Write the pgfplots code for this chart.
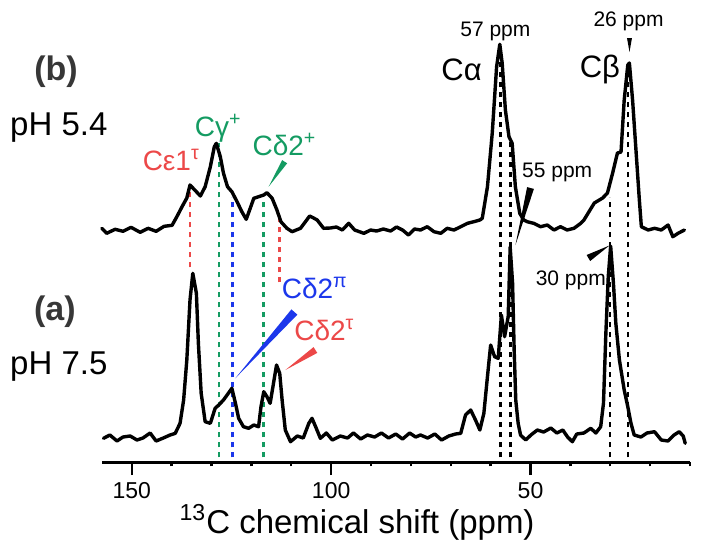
\documentclass[border=0pt]{standalone}
\usepackage{fontspec}
\setmainfont{Liberation Sans}
\usepackage{pgfplots}
\pgfplotsset{compat=1.18}
\definecolor{cred}{RGB}{236,72,72}
\definecolor{cgreen}{RGB}{20,155,98}
\definecolor{cblue}{RGB}{28,55,235}
\definecolor{cgray}{RGB}{55,55,55}
\begin{document}
\begin{tikzpicture}
\useasboundingbox (-51.15pt,-45.85pt) rectangle (299.35pt,231.15pt);
\begin{axis}[
  at={(0,0)}, anchor=south west,
  scale only axis, width=293.85pt, height=231.15pt,
  xmin=10, xmax=157.4, ymin=0, ymax=462.3,
  x dir=reverse,
  axis x line*=bottom, axis y line=none,
  xtick={50,100,150}, minor xtick={10,20,...,140},
  xtick align=outside,
  major tick length=6.35pt, minor tick length=2pt,
  tick style={black, line width=1.2pt},
  x axis line style={line width=1.3pt},
  xticklabel style={font=\fontsize{11.5}{13}\selectfont},
  /pgf/number format/assume math mode=true,
  clip=false,
]
% dashed guide lines
\begin{scope}[line width=1.2pt, dash pattern=on 2.8pt off 2.2pt]
\draw[cred] (axis cs:135.4,195) -- (axis cs:135.4,277);
\draw[cgreen] (axis cs:128.1,5) -- (axis cs:128.1,319);
\draw[cblue] (axis cs:124.7,5) -- (axis cs:124.7,265);
\draw[cgreen] (axis cs:117.0,5) -- (axis cs:117.0,262);
\draw[cred] (axis cs:113.0,180) -- (axis cs:113.0,247);
\draw[black] (axis cs:57.5,5) -- (axis cs:57.5,412);
\draw[black] (axis cs:55.0,5) -- (axis cs:55.0,322);
\draw[black] (axis cs:30.0,5) -- (axis cs:30.0,265);
\draw[black] (axis cs:25.5,5) -- (axis cs:25.5,397);
\end{scope}
% (b) pH 5.4
\addplot[black, line width=1.7pt, line join=round, line cap=round, no markers] coordinates {
(157.5,234) (156.3,229) (154.2,233) (152.2,231) (150.2,235) (147.9,230) (145.9,234) (143.9,231) (141.9,236) (139.9,237) (138.7,245.6) (137.4,255.6) (136.2,264.3) (135.4,277.3) (133.8,270.6) (132.8,266.3) (131.6,275.6) (130.3,295.6) (129.3,315.6) (128.8,319) (127.8,305.6) (127.0,289) (126.0,275.6) (124.9,270.6) (123.6,260.6) (122.4,250.6) (121.3,243) (120.3,254) (119.4,264) (118.2,265.6) (116.9,267.3) (116.1,269.6) (114.8,264) (113.6,252.3) (112.6,240.6) (111.1,234) (109.8,230.6) (107.7,234) (106.5,240.3) (105.4,246.3) (104.4,244.3) (103.5,242.3) (101.9,234) (100.2,234.3) (98.7,235.3) (97.2,232.3) (95.6,239) (94.1,232.3) (91.8,229) (90.1,232.3) (88.6,231.3) (86.9,233.3) (85.1,231.3) (83.6,235.3) (82.1,232.3) (80.6,227.3) (79.1,233.3) (77.6,232.3) (75.9,235.6) (74.2,230.6) (72.5,229) (70.9,234) (69.2,232.3) (67.5,235.6) (65.8,239) (64.2,240.6) (62.7,242.3) (62.1,244) (60.8,275.6) (59.6,329) (58.5,395.6) (57.7,418) (57.1,399) (56.3,352.3) (55.4,325.6) (54.6,319) (53.8,275.6) (52.7,249) (51.7,242.3) (50.8,240.6) (49.2,239) (47.5,235.6) (45.8,237.3) (44.1,232.3) (42.5,235.6) (40.8,232.3) (39.1,234) (37.4,239) (36.6,242.3) (34.0,259.3) (31.9,264.3) (30.7,269.3) (29.4,289.3) (28.2,309.3) (27.3,310.3) (26.5,362.3) (25.6,397.3) (25.2,399.3) (24.4,362.3) (23.5,309.3) (22.7,262.3) (22.2,235.6) (20.5,232.3) (18.9,234) (17.2,232.3) (15.5,237.3) (14.3,225.6) (13.0,229) (11.4,232.3)
};
% (a) pH 7.5
\addplot[black, line width=1.7pt, line join=round, line cap=round, no markers] coordinates {
(157.1,24) (155.5,27.3) (153.7,21.3) (152.2,25.3) (150.4,26.3) (148.7,22.3) (147.2,24.3) (145.4,29.3) (143.9,21.3) (142.1,24.3) (140.4,27.3) (139.1,29) (137.9,39) (137.0,62.3) (136.2,102.3) (135.4,162.3) (134.7,189) (133.8,169) (133.3,119) (132.6,69) (131.6,40.6) (130.3,39) (129.1,54) (128.2,57.3) (127.0,62.3) (126.1,67.3) (124.9,74) (124.0,59) (123.2,44) (122.0,35.6) (120.7,34) (119.4,37.3) (118.2,35.6) (117.6,55.6) (116.9,70.6) (116.1,65.6) (115.3,59) (114.6,75.6) (113.7,97.3) (112.9,89) (112.3,62.3) (111.5,32.3) (110.2,20.6) (108.5,26.3) (107.0,24.3) (105.6,39) (104.8,44) (103.9,35.6) (102.7,24) (101.2,29.3) (99.7,22.3) (97.7,26.3) (95.9,24.3) (94.4,29.3) (92.6,23.3) (90.9,27.3) (89.1,25.3) (87.4,29.3) (85.6,24.3) (83.8,28.3) (82.1,23.3) (80.3,29.3) (78.8,25.3) (77.6,27.3) (75.8,24.3) (74.0,28.3) (72.3,22.3) (70.5,26.3) (68.8,28.3) (67.5,29) (66.3,47.3) (65.0,52.3) (63.8,42.3) (62.7,32.3) (61.7,49) (60.8,85.6) (60.0,117.3) (59.0,105.6) (58.1,104) (57.3,147.3) (56.5,125.6) (55.6,145.6) (55.1,215.3) (54.5,179.3) (54.1,112.3) (53.7,62.3) (53.1,39) (52.5,27.3) (51.2,22.3) (49.9,27.3) (48.3,32.3) (46.7,30.3) (44.9,34.3) (43.4,29.3) (41.9,32.3) (40.7,25.3) (39.5,20.6) (38.4,28.3) (36.6,29.3) (34.9,34) (33.6,29.3) (32.4,35.6) (31.7,59) (31.1,129) (30.5,185.6) (29.9,216.3) (29.2,179) (28.6,139) (27.7,102.3) (26.5,72.3) (25.6,55.6) (24.8,39) (24.0,27.3) (22.3,25.3) (20.8,29.3) (18.9,30.6) (17.2,22.3) (15.5,21.3) (14.0,27.3) (12.7,30.6) (11.7,26.3) (11.2,19)
};
% wedges
\fill[cgreen] (axis cs:111.03,299) -- (axis cs:112.29,302.2) -- (axis cs:115.68,275.6) -- cycle;
\fill[cblue] (axis cs:108.47,147.7) -- (axis cs:109.97,152.9) -- (axis cs:124.04,84) -- cycle;
\fill[cred] (axis cs:103.47,109.4) -- (axis cs:104.42,115.2) -- (axis cs:111.48,92.3) -- cycle;
\fill[black] (axis cs:49.15,273.4) -- (axis cs:50.85,275.2) -- (axis cs:53.77,217.3) -- cycle;
\fill[black] (axis cs:35.03,201.3) -- (axis cs:35.93,207.3) -- (axis cs:30.2,216.8) -- cycle;
\fill[black] (axis cs:25.8,424.3) -- (axis cs:24.55,424.3) -- (axis cs:25.17,410.3) -- cycle;
% labels
\node[anchor=base, text=cred, font=\fontsize{14}{16}\selectfont, inner sep=0pt] at (axis cs:140.1,292.3) {Cε1\textsuperscript{τ}};
\node[anchor=base, text=cgreen, font=\fontsize{14}{16}\selectfont, inner sep=0pt] at (axis cs:128.3,326.3) {Cγ\textsuperscript{+}};
\node[anchor=base, text=cgreen, font=\fontsize{14}{16}\selectfont, inner sep=0pt] at (axis cs:111.7,307.3) {Cδ2\textsuperscript{+}};
\node[anchor=base, text=cblue, font=\fontsize{14}{16}\selectfont, inner sep=0pt] at (axis cs:104.1,164.3) {Cδ2\textsuperscript{π}};
\node[anchor=base, text=cred, font=\fontsize{14}{16}\selectfont, inner sep=0pt] at (axis cs:101.7,122.3) {Cδ2\textsuperscript{τ}};
\node[anchor=base, font=\fontsize{10.5}{12}\selectfont, inner sep=0pt] at (axis cs:58.8,426.3) {57 ppm};
\node[anchor=base, font=\fontsize{10.5}{12}\selectfont, inner sep=0pt] at (axis cs:25.4,435.6) {26 ppm};
\node[anchor=base, font=\fontsize{10.5}{12}\selectfont, inner sep=0pt] at (axis cs:43.3,285.3) {55 ppm};
\node[anchor=base, font=\fontsize{10.5}{12}\selectfont, inner sep=0pt] at (axis cs:39.9,177.3) {30 ppm};
\node[anchor=base, font=\fontsize{15.5}{18}\selectfont, inner sep=0pt] at (axis cs:67.3,382.3) {Cα};
\node[anchor=base, font=\fontsize{15.5}{18}\selectfont, inner sep=0pt] at (axis cs:32.6,385.3) {Cβ};
\node[anchor=base, text=cgray, font=\fontsize{17}{20}\selectfont\bfseries, inner sep=0pt] at (axis cs:169.0,382.3) {(b)};
\node[anchor=base west, font=\fontsize{16.5}{19}\selectfont, inner sep=0pt] at (axis cs:180.6,327.3) {pH 5.4};
\node[anchor=base, text=cgray, font=\fontsize{17}{20}\selectfont\bfseries, inner sep=0pt] at (axis cs:169.3,142.3) {(a)};
\node[anchor=base west, font=\fontsize{16.5}{19}\selectfont, inner sep=0pt] at (axis cs:180.6,88.3) {pH 7.5};
\node[anchor=base, font=\fontsize{16.5}{19}\selectfont, inner sep=0pt] at (axis cs:93.5,-70.7) {\textsuperscript{13}C chemical shift (ppm)};
\end{axis}
\end{tikzpicture}
\end{document}
